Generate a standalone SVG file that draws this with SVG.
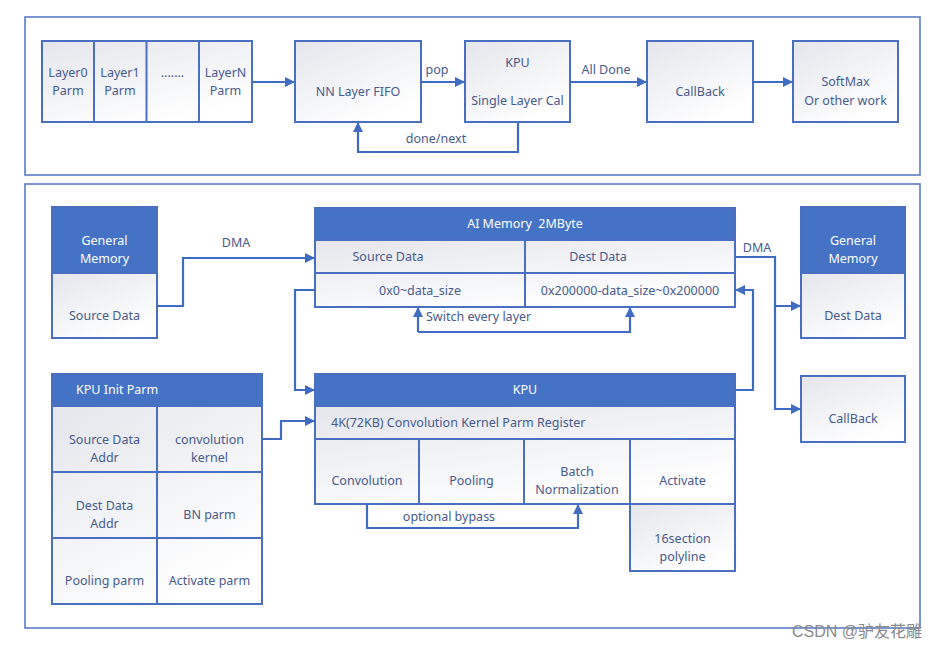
<svg xmlns="http://www.w3.org/2000/svg" width="944" height="648" viewBox="0 0 944 648">
<defs>
<linearGradient id="g" x1="0" y1="0" x2="0.6" y2="1">
<stop offset="0" stop-color="#e4e6ec"/>
<stop offset="1" stop-color="#ffffff"/>
</linearGradient>
<marker id="ar" viewBox="0 0 10 10" refX="9" refY="5" markerWidth="10" markerHeight="10" markerUnits="userSpaceOnUse" orient="auto">
<path d="M0,0 L10,5 L0,10 z" fill="#3f6bc2"/>
</marker>
<style>
.frame{fill:#fff;stroke:#5a7cc6;stroke-width:1.6}
.box{fill:url(#g);stroke:#4a6fc0;stroke-width:2}
.hdr{fill:#4472c4;stroke:#4a6fc0;stroke-width:2}
.ln{fill:none;stroke:#4a6fc0;stroke-width:2}
.ca{fill:none;stroke:#3f6bc2;stroke-width:2.2;marker-end:url(#ar)}
text{font-family:"Noto Sans","Open Sans",sans-serif;font-size:12.5px;fill:#475b8c;text-anchor:middle;white-space:pre}
.w{fill:#ffffff}
.l{text-anchor:start}
.wm{fill:#8a8a8a;font-size:16px;text-anchor:start;font-family:"Liberation Sans","Noto Sans CJK SC",sans-serif}
</style>
</defs>
<rect width="944" height="648" fill="#fff"/>
<rect class="frame" x="25" y="17" width="895" height="158"/>
<rect class="frame" x="25" y="184" width="895" height="444"/>

<g id="layers">
<rect class="box" x="42" y="41" width="210" height="81"/>
<line class="ln" x1="94" y1="41" x2="94" y2="122"/>
<line class="ln" x1="146.5" y1="41" x2="146.5" y2="122"/>
<line class="ln" x1="199" y1="41" x2="199" y2="122"/>
<text x="68" y="77">Layer0</text><text x="68" y="95">Parm</text>
<text x="120" y="77">Layer1</text><text x="120" y="95">Parm</text>
<text x="172.5" y="77">.......</text>
<text x="225.5" y="77">LayerN</text><text x="225.5" y="95">Parm</text>
</g>
<g id="fifo">
<rect class="box" x="295" y="41" width="126" height="81"/>
<text x="358" y="96">NN Layer FIFO</text>
</g>
<g id="kpu-top">
<rect class="box" x="465" y="41" width="105" height="81"/>
<text x="517.5" y="67">KPU</text>
<text x="517.5" y="105">Single Layer Cal</text>
</g>
<g id="callback-top">
<rect class="box" x="647" y="41" width="106" height="81"/>
<text x="700" y="96">CallBack</text>
</g>
<g id="softmax">
<rect class="box" x="793" y="41" width="105" height="81"/>
<text x="845.5" y="86">SoftMax</text>
<text x="845.5" y="105">Or other work</text>
</g>

<g id="genmem-left">
<rect class="box" x="52" y="273" width="105" height="65"/>
<rect class="hdr" x="52" y="207" width="105" height="66"/>
<text class="w" x="104.5" y="245">General</text>
<text class="w" x="104.5" y="263">Memory</text>
<text x="104.5" y="320">Source Data</text>
</g>
<g id="ai-memory">
<rect class="box" x="315" y="240" width="420" height="67"/>
<rect class="hdr" x="315" y="208" width="420" height="32"/>
<line class="ln" x1="315" y1="273" x2="735" y2="273"/>
<line class="ln" x1="525" y1="240" x2="525" y2="307"/>
<text class="w" x="525" y="228" xml:space="preserve">AI Memory  2MByte</text>
<text x="388" y="261">Source Data</text>
<text x="598" y="261">Dest Data</text>
<text x="420" y="295">0x0~data_size</text>
<text x="630" y="295">0x200000-data_size~0x200000</text>
</g>
<g id="genmem-right">
<rect class="box" x="801" y="273" width="104" height="65"/>
<rect class="hdr" x="801" y="207" width="104" height="66"/>
<text class="w" x="853" y="245">General</text>
<text class="w" x="853" y="263">Memory</text>
<text x="853" y="320">Dest Data</text>
</g>
<g id="callback-right">
<rect class="box" x="801" y="376" width="104" height="66"/>
<text x="853" y="423">CallBack</text>
</g>
<g id="kpu-init">
<rect class="box" x="52" y="406" width="210" height="198"/>
<rect class="hdr" x="52" y="374" width="210" height="32"/>
<line class="ln" x1="157" y1="406" x2="157" y2="604"/>
<line class="ln" x1="52" y1="472" x2="262" y2="472"/>
<line class="ln" x1="52" y1="538" x2="262" y2="538"/>
<text class="w l" x="76" y="394">KPU Init Parm</text>
<text x="104.5" y="444">Source Data</text><text x="104.5" y="462">Addr</text>
<text x="209.5" y="444">convolution</text><text x="209.5" y="462">kernel</text>
<text x="104.5" y="510">Dest Data</text><text x="104.5" y="528">Addr</text>
<text x="209.5" y="519">BN parm</text>
<text x="104.5" y="585">Pooling parm</text>
<text x="209.5" y="585">Activate parm</text>
</g>
<g id="kpu">
<rect class="box" x="315" y="406" width="420" height="98"/>
<rect class="box" x="630" y="504" width="105" height="67"/>
<rect class="hdr" x="315" y="374" width="420" height="32"/>
<line class="ln" x1="315" y1="439" x2="735" y2="439"/>
<line class="ln" x1="419" y1="439" x2="419" y2="504"/>
<line class="ln" x1="524" y1="439" x2="524" y2="504"/>
<line class="ln" x1="630" y1="439" x2="630" y2="504"/>
<text class="w" x="525" y="394">KPU</text>
<text class="l" x="331" y="427">4K(72KB) Convolution Kernel Parm Register</text>
<text x="367" y="485">Convolution</text>
<text x="471.5" y="485">Pooling</text>
<text x="577" y="476">Batch</text><text x="577" y="494">Normalization</text>
<text x="682.5" y="485">Activate</text>
<text x="682.5" y="543">16section</text><text x="682.5" y="561">polyline</text>
</g>

<g id="connectors">
<path class="ca" d="M252,82 H294"/>
<path class="ca" d="M421,82 H464"/>
<path class="ca" d="M518,122 V152 H358 V123"/>
<path class="ca" d="M570,82 H646"/>
<path class="ca" d="M753,82 H792"/>
<path class="ca" d="M157,306 H183 V258 H314"/>
<path class="ca" d="M315,290 H295 V390 H314"/>
<path class="ca" d="M418,332 V308"/>
<path class="ca" d="M418,332 H630 V308"/>
<path class="ca" d="M735,257 H775 V306 H800"/>
<path class="ca" d="M775,306 V409 H800"/>
<path class="ca" d="M735,390 H753 V290 H736"/>
<path class="ca" d="M262,439 H281 V421 H314"/>
<path class="ca" d="M367,504 V528 H578 V505"/>
<text x="437" y="74">pop</text>
<text x="436" y="143">done/next</text>
<text x="606" y="74">All Done</text>
<text x="236" y="247">DMA</text>
<text x="757" y="252">DMA</text>
<text class="l" x="426" y="321">Switch every layer</text>
<text x="449" y="521">optional bypass</text>
</g>
<text class="wm" x="792" y="637">CSDN @驴友花雕</text>
</svg>
